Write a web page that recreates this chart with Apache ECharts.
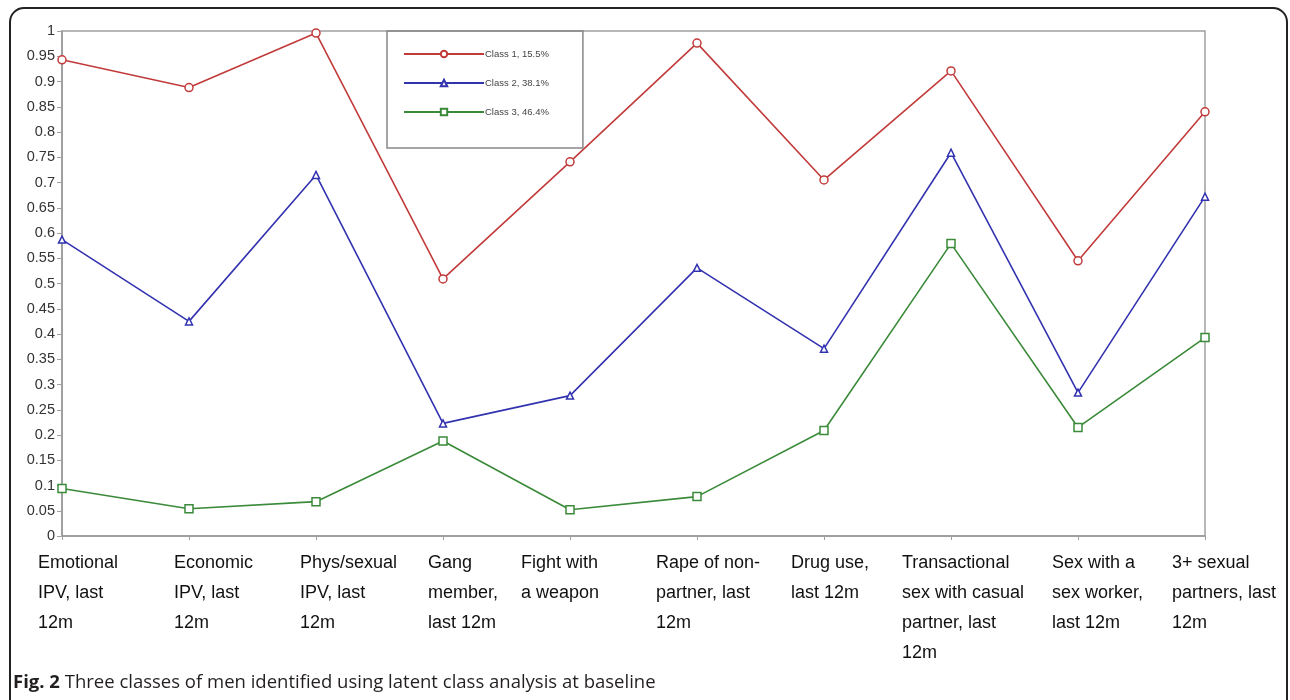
<!DOCTYPE html>
<html>
<head>
<meta charset="utf-8">
<script src="https://cdn.jsdelivr.net/npm/echarts@6/dist/echarts.min.js"></script>
<style>
html,body{margin:0;padding:0;background:#fff;}
#chart{width:1290px;height:700px;}
</style>
</head>
<body>
<div id="chart"></div>
<script>
const categories = [
  'Emotional\nIPV, last\n12m',
  'Economic\nIPV, last\n12m',
  'Phys/sexual\nIPV, last\n12m',
  'Gang\nmember,\nlast 12m',
  'Fight with\na weapon',
  'Rape of non-\npartner, last\n12m',
  'Drug use,\nlast 12m',
  'Transactional\nsex with casual\npartner, last\n12m',
  'Sex with a\nsex worker,\nlast 12m',
  '3+ sexual\npartners, last\n12m'
];
const seriesNames = ['Class 1, 15.5%', 'Class 2, 38.1%', 'Class 3, 46.4%'];
const class1 = [0.943, 0.888, 0.996, 0.509, 0.741, 0.976, 0.705, 0.921, 0.545, 0.840];
const class2 = [0.587, 0.425, 0.715, 0.223, 0.278, 0.531, 0.371, 0.759, 0.284, 0.672];
const class3 = [0.094, 0.054, 0.068, 0.188, 0.052, 0.078, 0.209, 0.579, 0.215, 0.393];
const labelPads = [26, 35, 34, 35, 1, 9, 17, 1, 24, 17];

const FONT = "'Liberation Sans', Arial, sans-serif";
const chart = echarts.init(document.getElementById('chart'));
const rich = {};
labelPads.forEach((p, i) => {
  rich['p' + i] = { padding: [0, 0, 0, p], fontSize: 18, lineHeight: 30, color: '#111', fontFamily: FONT };
});
const colors = ['#c23b3b', '#3333b0', '#3a8a3a'];
const symbols = ['circle', 'triangle', 'rect'];
const symSizes = [8, 7, 8];
const datas = [class1, class2, class3];

chart.setOption({
  backgroundColor: '#fff',
  animation: false,
  legend: {
    orient: 'vertical',
    left: 387, top: 31,
    padding: [18, 34, 31, 16],
    borderColor: '#888', borderWidth: 1.5,
    itemWidth: 80, itemHeight: 8, itemGap: 19,
    textStyle: { fontSize: 9.5, color: '#444', fontFamily: FONT, padding: [0, 0, 0, -4] },
    data: seriesNames
  },
  grid: [
    { left: 62, right: 85, top: 31, bottom: 164, show: true, borderColor: '#a0a0a0', borderWidth: 1.5, backgroundColor: 'transparent' },
    { left: 12, right: 135, top: 31, bottom: 164, show: false }
  ],
  xAxis: [
    {
      type: 'category', data: categories, boundaryGap: false, gridIndex: 0,
      axisLine: { lineStyle: { color: '#a0a0a0', width: 2 } },
      axisTick: { show: true, length: 4, inside: false, lineStyle: { color: '#a0a0a0' } },
      axisLabel: { show: false },
      splitLine: { show: false }
    },
    {
      type: 'category', data: categories, boundaryGap: false, gridIndex: 1,
      axisLine: { show: false }, axisTick: { show: false }, splitLine: { show: false },
      axisLabel: {
        show: true, interval: 0, align: 'left', margin: 12,
        formatter: function (v, i) {
          return v.split('\n').map(l => '{p' + i + '|' + l + '}').join('\n');
        },
        rich: rich
      }
    }
  ],
  yAxis: [
    {
      type: 'value', min: 0, max: 1, interval: 0.05, gridIndex: 0,
      axisLine: { show: true, lineStyle: { color: '#a0a0a0', width: 2 } },
      axisTick: { show: true, length: 5, lineStyle: { color: '#a0a0a0' } },
      splitLine: { show: false },
      axisLabel: { fontSize: 14.5, color: '#333', margin: 7, fontFamily: FONT }
    },
    { type: 'value', min: 0, max: 1, gridIndex: 1, show: false }
  ],
  series: datas.map((d, i) => ({
    name: seriesNames[i], type: 'line', data: d,
    xAxisIndex: 0, yAxisIndex: 0,
    symbol: symbols[i], symbolSize: symSizes[i], showAllSymbol: true,
    itemStyle: { color: '#fff', borderColor: colors[i], borderWidth: 1.5 },
    lineStyle: { color: colors[i], width: 1.6 }
  })),
  graphic: [
    {
      type: 'rect', silent: true, z: 100,
      shape: { x: 10, y: 8, width: 1277, height: 740, r: 14 },
      style: { fill: 'none', stroke: '#222', lineWidth: 2 }
    },
    {
      type: 'text', left: 13, top: 673, z: 100,
      style: {
        text: '{b|Fig. 2} Three classes of men identified using latent class analysis at baseline',
        fontSize: 18.5, fill: '#231f20', fontFamily: "'Open Sans', sans-serif",
        rich: { b: { fontWeight: 'bold', fontSize: 18.5, fill: '#231f20', fontFamily: "'Open Sans', sans-serif" } }
      }
    }
  ]
});
</script>
</body>
</html>
